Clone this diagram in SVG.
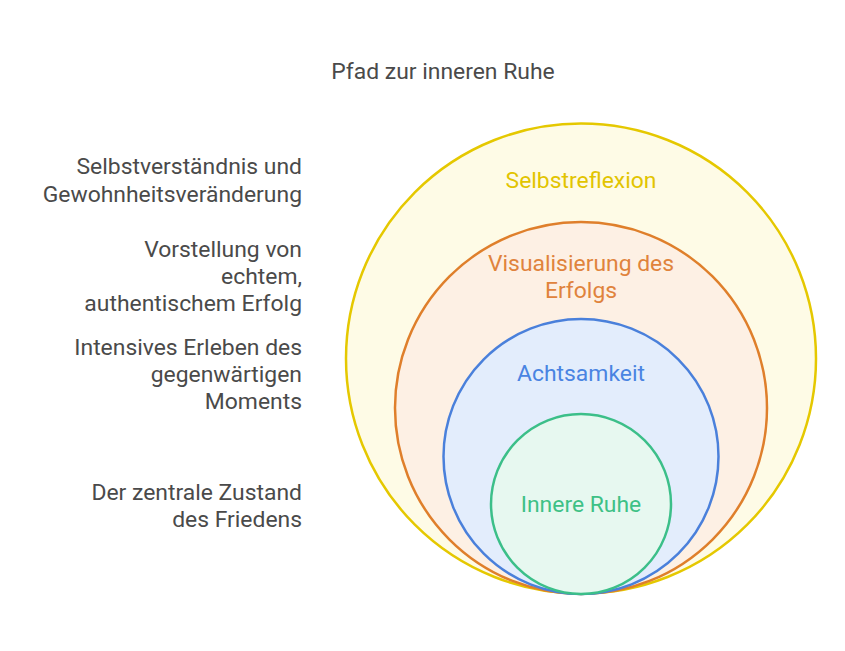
<svg xmlns="http://www.w3.org/2000/svg" width="845" height="651" viewBox="0 0 845 651">
<style>
text{font-family:Roboto,"Liberation Sans",sans-serif;font-size:22.9px}
.lbl{fill:#4a4a4a;text-anchor:end}
.ttl{fill:#4a4a4a;text-anchor:middle}
.c{stroke-width:2.5}
.ct{text-anchor:middle}
</style>
<rect width="845" height="651" fill="#ffffff"/>
<text class="ttl" x="443" y="79">Pfad zur inneren Ruhe</text>
<g id="selbstreflexion">
<circle class="c" cx="581" cy="358.5" r="235" fill="#FEFBE6" stroke="#E5C800"/>
<text class="ct" x="581" y="188" fill="#E2C400">Selbstreflexion</text>
</g>
<g id="visualisierung">
<circle class="c" cx="581" cy="408" r="186" fill="#FDF0E4" stroke="#DF7F2B"/>
<text class="ct" x="581" y="271" fill="#E0833C">Visualisierung des</text>
<text class="ct" x="581" y="298" fill="#E0833C">Erfolgs</text>
</g>
<g id="achtsamkeit">
<circle class="c" cx="581" cy="456.5" r="137.5" fill="#E3EDFC" stroke="#4A80DB"/>
<text class="ct" x="581" y="381" fill="#4A84E2">Achtsamkeit</text>
</g>
<g id="innere-ruhe">
<circle class="c" cx="581" cy="504" r="90" fill="#E7F8F0" stroke="#3CBF89"/>
<text class="ct" x="581" y="512" fill="#3EC186">Innere Ruhe</text>
</g>
<g id="labels">
<text class="lbl" x="302" y="174">Selbstverständnis und</text>
<text class="lbl" x="302" y="202">Gewohnheitsveränderung</text>
<text class="lbl" x="302" y="257">Vorstellung von</text>
<text class="lbl" x="302" y="284">echtem,</text>
<text class="lbl" x="302" y="311">authentischem Erfolg</text>
<text class="lbl" x="302" y="355">Intensives Erleben des</text>
<text class="lbl" x="302" y="382">gegenwärtigen</text>
<text class="lbl" x="302" y="409">Moments</text>
<text class="lbl" x="302" y="500">Der zentrale Zustand</text>
<text class="lbl" x="302" y="527">des Friedens</text>
</g>
</svg>
